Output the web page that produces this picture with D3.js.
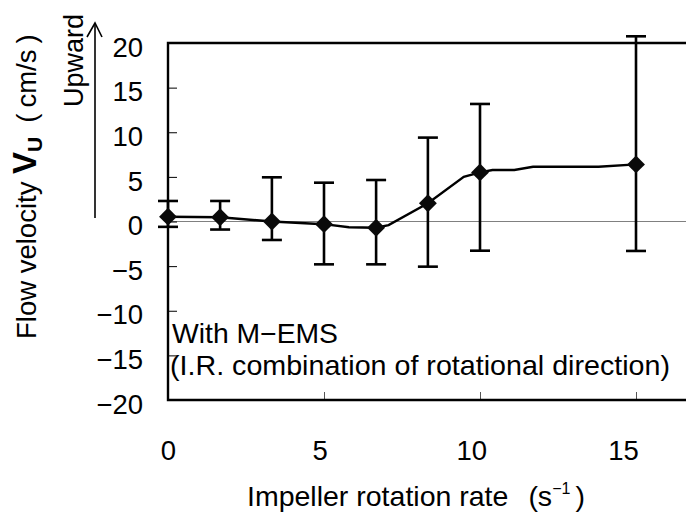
<!DOCTYPE html>
<html>
<head>
<meta charset="utf-8">
<script src="https://cdn.jsdelivr.net/npm/d3@7"></script>
<style>
body { margin: 0; background: #fff; }
text { font-family: "Liberation Sans", Arial, sans-serif; fill: #000; }
</style>
</head>
<body>
<div id="chart"></div>
<script>
// sizes
const WIDTH = 686
const HEIGHT = 512

// data
const rates = [0, 1.67, 3.33, 5, 6.67, 8.33, 10, 15];
const velocity = [0.54, 0.47, 0.0, -0.3, -0.7, 2.04, 5.5, 6.4];
const errHigh = [2.3, 2.3, 4.95, 4.35, 4.65, 9.4, 13.17, 20.75];
const errLow = [-0.6, -0.9, -2.07, -4.8, -4.8, -5.06, -3.27, -3.3];

// the connecting line of the original has a few extra bends
const lineRates = [0, 1.67, 3.33, 5, 5.8, 6.67, 7.07, 8.33, 9.48, 10, 10.4, 11.1, 11.7, 13.8, 15];
const lineVelocity = [0.54, 0.47, 0.0, -0.3, -0.65, -0.7, -0.4, 2.04, 5.0, 5.5, 5.77, 5.77, 6.13, 6.13, 6.4];

const xTicks = [0, 5, 10, 15];
const yTicks = [-20, -15, -10, -5, 0, 5, 10, 15, 20];

const svg = d3.select("#chart")
	.append("svg")
		.attr("width", WIDTH)
		.attr("height", HEIGHT);

// scales
const X = d3.scaleLinear().domain([0, 20]).range([168, 792]);
const XLAB = d3.scaleLinear().domain([0, 15]).range([168, 623]);
const Y = d3.scaleLinear().domain([-20, 20]).range([400, 43]);

// zero line
svg.append("line")
	.attr("x1", X(0)).attr("x2", WIDTH)
	.attr("y1", Y(0)).attr("y2", Y(0))
	.attr("stroke", "#808080").attr("stroke-width", 1.2);

// y axis
const yAxis = svg.append("g")
	.attr("transform", `translate(${X(0)},0)`)
	.call(d3.axisLeft(Y).tickValues(yTicks).tickSize(-9).tickPadding(25));
yAxis.select(".domain").remove();
yAxis.selectAll(".tick line").attr("stroke", "#000").attr("stroke-width", 1);
yAxis.selectAll("text")
	.attr("font-size", 27.5)
	.attr("font-family", "Liberation Sans, Arial, sans-serif")
	.attr("dy", "0.48em");

// x axis ticks
const xAxis = svg.append("g")
	.attr("transform", `translate(0,${Y(-20)})`)
	.call(d3.axisBottom(X).tickValues(xTicks.slice(1)).tickSize(-8).tickFormat(""));
xAxis.select(".domain").remove();
xAxis.selectAll(".tick line").attr("stroke", "#555").attr("stroke-width", 1);

// x tick labels
const xLab = svg.append("g")
	.attr("transform", `translate(0,${Y(-20)})`)
	.call(d3.axisBottom(XLAB).tickValues(xTicks).tickSize(0).tickPadding(40));
xLab.select(".domain").remove();
xLab.selectAll("text")
	.attr("font-size", 27.5)
	.attr("font-family", "Liberation Sans, Arial, sans-serif");

// frame
svg.append("path")
	.attr("d", `M${WIDTH + 5},${Y(20)} H${X(0)} V${Y(-20)} H${WIDTH + 5}`)
	.attr("fill", "none")
	.attr("stroke", "#000")
	.attr("stroke-width", 2.4);

// connecting line
const line = d3.line()
	.x((d, i) => X(lineRates[i]))
	.y((d) => Y(d));
svg.append("path")
	.datum(lineVelocity)
	.attr("d", line)
	.attr("fill", "none")
	.attr("stroke", "#000")
	.attr("stroke-width", 2.4);

// error bars
const bars = svg.selectAll(".err")
	.data(rates)
	.enter()
	.append("g")
		.attr("class", "err")
		.attr("stroke", "#000")
		.attr("stroke-width", 2.6);
bars.append("line")
	.attr("x1", (d) => X(d)).attr("x2", (d) => X(d))
	.attr("y1", (d, i) => Y(errHigh[i])).attr("y2", (d, i) => Y(errLow[i]));
bars.append("line")
	.attr("x1", (d) => X(d) - 10).attr("x2", (d) => X(d) + 10)
	.attr("y1", (d, i) => Y(errHigh[i])).attr("y2", (d, i) => Y(errHigh[i]));
bars.append("line")
	.attr("x1", (d) => X(d) - 10).attr("x2", (d) => X(d) + 10)
	.attr("y1", (d, i) => Y(errLow[i])).attr("y2", (d, i) => Y(errLow[i]));

// markers
svg.selectAll(".pt")
	.data(rates)
	.enter()
	.append("path")
		.attr("class", "pt")
		.attr("d", d3.symbol(d3.symbolSquare, 160))
		.attr("transform", (d, i) => `translate(${X(d)},${Y(velocity[i])}) rotate(45)`)
		.attr("fill", "#0a0a0a");

// note inside the plot
svg.append("text")
	.attr("x", 172).attr("y", 343)
	.attr("font-size", 28)
	.attr("textLength", 166).attr("lengthAdjust", "spacingAndGlyphs")
	.text("With M\u2212EMS");
svg.append("text")
	.attr("x", 170).attr("y", 375)
	.attr("font-size", 28)
	.attr("textLength", 500).attr("lengthAdjust", "spacingAndGlyphs")
	.text("(I.R. combination of rotational direction)");

// x title
const xt = svg.append("text")
	.attr("x", 247).attr("y", 506)
	.attr("font-size", 28.5);
xt.append("tspan").text("Impeller rotation rate");
xt.append("tspan").attr("dx", 20).text("(s");
xt.append("tspan").attr("font-size", 16).attr("dy", -12).text("\u22121");
xt.append("tspan").attr("dy", 12).attr("dx", 5).text(")");

// y title
const yt = svg.append("text")
	.attr("transform", "translate(36,339) rotate(-90)")
	.attr("font-size", 27.5);
yt.append("tspan").text("Flow velocity ");
yt.append("tspan").attr("font-weight", "bold").attr("font-size", 33).text("V");
yt.append("tspan").attr("font-weight", "bold").attr("font-size", 21).attr("dy", 6).text("U");
yt.append("tspan").attr("dy", -6).attr("dx", 14).text("(");
yt.append("tspan").attr("dx", 6).text("cm/s");
yt.append("tspan").attr("dx", 6).text(")");

// upward arrow
svg.append("text")
	.attr("transform", "translate(83,107) rotate(-90)")
	.attr("font-size", 27)
	.text("Upward");
svg.append("line")
	.attr("x1", 95).attr("x2", 95)
	.attr("y1", 218).attr("y2", 23)
	.attr("stroke", "#000").attr("stroke-width", 1.6);
svg.append("path")
	.attr("d", "M87,37 L95,23 L102,37")
	.attr("fill", "none")
	.attr("stroke", "#000").attr("stroke-width", 1.6);
</script>
</body>
</html>
